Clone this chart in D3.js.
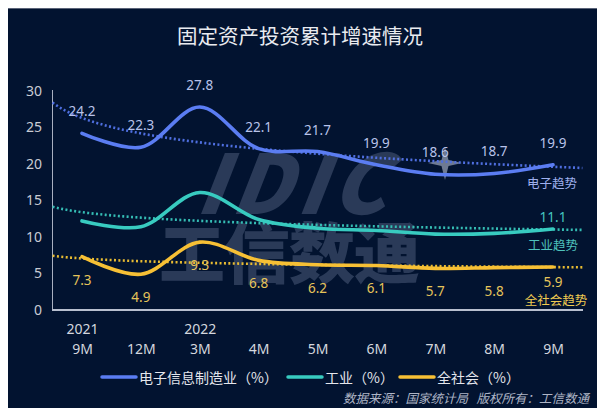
<!DOCTYPE html>
<html>
<head>
<meta charset="utf-8">
<script src="https://cdn.jsdelivr.net/npm/d3@7"></script>
<style>
  html, body { margin: 0; padding: 0; background: #ffffff; }
  svg { display: block; }
</style>
</head>
<body>
<svg id="chart" width="601" height="408" font-family="'Noto Sans CJK SC', 'Noto Sans', sans-serif"></svg>
<script>
// Periods (year row + month row of the category axis)
const categories = ["2021-9M", "2021-12M", "2022-3M", "2022-4M", "2022-5M", "2022-6M", "2022-7M", "2022-8M", "2022-9M"];
const yearLabels = ["2021", "", "2022", "", "", "", "", "", ""];
const monthLabels = ["9M", "12M", "3M", "4M", "5M", "6M", "7M", "8M", "9M"];

// Cumulative growth of fixed-asset investment (%)
const electronics = [24.2, 22.3, 27.8, 22.1, 21.7, 19.9, 18.6, 18.7, 19.9];
const industry    = [12.2, 11.4, 16.1, 12.4, 11.2, 10.9, 10.4, 10.5, 11.1];
const society     = [7.3, 4.9, 9.3, 6.8, 6.2, 6.1, 5.7, 5.8, 5.9];

// Logarithmic trend lines: value = a + b * ln(period index), period index 1..9
const trendA = [26.3, 13.4, 7.06];
const trendB = [-3.04, -1.08, -0.54];

const seriesNames  = ["电子信息制造业（%）", "工业（%）", "全社会（%）"];
const trendNames   = ["电子趋势", "工业趋势", "全社会趋势"];
const yTicks = [0, 5, 10, 15, 20, 25, 30];

const colors     = ["#5b7df2", "#38cbc0", "#f7c035"];
const dotColors  = ["#4f6fe0", "#35bdb4", "#e9bc32"];
const labelCols  = ["#b9c3ea", "#45c6c0", "#e6c45a"];
const trendCols  = ["#9fb0ee", "#4fc2bd", "#f0cb52"];

const numFont = "'Noto Sans', sans-serif";
const svg = d3.select("#chart");

// Dark panel
svg.append("rect").attr("x", 8).attr("y", 8).attr("width", 589).attr("height", 400).attr("fill", "#021330");
svg.append("line").attr("x1", 8).attr("x2", 597).attr("y1", 8.5).attr("y2", 8.5)
  .attr("stroke", "#5a6378").attr("stroke-width", 1);

// Title
svg.append("text").attr("x", 300).attr("y", 44).attr("text-anchor", "middle")
  .attr("font-size", 20.5).attr("fill", "#e9ebf0").text("固定资产投资累计增速情况");

const x = d3.scalePoint().domain(categories).range([82, 553]);
const step = x.step();
const y = d3.scaleLinear().domain([0, 30]).range([310, 91]);

// Watermark logo
const wm = svg.append("g").attr("fill", "#8795b4").attr("opacity", 0.3);
wm.append("text").attr("transform", "translate(292,214) skewX(-8)").attr("text-anchor", "middle")
  .attr("font-size", 82).attr("font-weight", 900).attr("font-style", "italic")
  .attr("letter-spacing", 6).text("IDIC");
wm.append("text").attr("x", 289).attr("y", 278).attr("text-anchor", "middle")
  .attr("font-size", 66).attr("font-weight", 900).attr("letter-spacing", -1).text("工信数通");
svg.append("path").attr("d", "M 445 147 L 448.5 160 L 462 163 L 448.5 166 L 445 180 L 441.5 166 L 428 163 L 441.5 160 Z")
  .attr("fill", "#c8d0e4").attr("opacity", 0.55);

// Y axis
const yAxis = d3.axisLeft(y).tickValues(yTicks).tickSize(0).tickPadding(10);
const gy = svg.append("g").attr("transform", "translate(52,0)").call(yAxis);
gy.select(".domain").remove();
gy.attr("font-family", numFont).attr("font-size", 14);
gy.selectAll("text").attr("fill", "#c9ccd4");
svg.append("line").attr("x1", 52.5).attr("x2", 52.5).attr("y1", 90).attr("y2", 310)
  .attr("stroke", "#a9b0c0").attr("stroke-width", 1);

// X axis
const xAxis = d3.axisBottom(x).tickSize(0).tickFormat(() => "");
const gx = svg.append("g").attr("transform", "translate(0,310)").call(xAxis);
gx.select(".domain").remove();
gx.attr("font-family", numFont).attr("font-size", 14);
gx.selectAll(".tick").each(function (d, i) {
  const t = d3.select(this);
  t.append("text").attr("y", 24).attr("text-anchor", "middle")
    .attr("fill", "#d4d7de").text(yearLabels[i]);
  t.append("text").attr("y", 44).attr("text-anchor", "middle")
    .attr("fill", "#d4d7de").text(monthLabels[i]);
});
svg.append("line").attr("x1", 52).attr("x2", 583).attr("y1", 310).attr("y2", 310)
  .attr("stroke", "#b8bfcf").attr("stroke-width", 2);

// Trend lines, extended half a period on both sides
const trendIdx = d3.range(0.5, 9.51, 0.1);
const idxToX = i => x(categories[0]) + (i - 1) * step;
trendA.forEach((a, s) => {
  const b = trendB[s];
  const line = d3.line().x(i => idxToX(i)).y(i => y(a + b * Math.log(i))).curve(d3.curveLinear);
  svg.append("path").attr("d", line(trendIdx)).attr("fill", "none")
    .attr("stroke", dotColors[s]).attr("stroke-width", 2.6)
    .attr("stroke-dasharray", "2 2.4");
});

// Series lines
const series = [electronics, industry, society];
const lineGen = d3.line().x((d, i) => x(categories[i])).y(d => y(d)).curve(d3.curveCatmullRom.alpha(0.5));
series.forEach((vals, s) => {
  svg.append("path").attr("d", lineGen(vals)).attr("fill", "none")
    .attr("stroke", colors[s]).attr("stroke-width", 3.6).attr("stroke-linecap", "round");
});

// Value labels
svg.append("g").attr("font-family", numFont).attr("font-size", 13.5)
  .selectAll("text").data(electronics).join("text")
  .attr("x", (d, i) => x(categories[i])).attr("y", d => y(d) - 17)
  .attr("text-anchor", "middle").attr("fill", labelCols[0]).text(d => d.toFixed(1));
svg.append("text").attr("x", x(categories[8])).attr("y", y(industry[8]) - 7)
  .attr("text-anchor", "middle").attr("font-size", 13.5).attr("fill", labelCols[1])
  .attr("font-family", numFont).text(industry[8].toFixed(1));
svg.append("g").attr("font-family", numFont).attr("font-size", 13.5)
  .selectAll("text").data(society).join("text")
  .attr("x", (d, i) => x(categories[i])).attr("y", (d, i) => y(d) + (i === 8 ? 20 : 28))
  .attr("text-anchor", "middle").attr("fill", labelCols[2]).text(d => d.toFixed(1));

// Trend labels
const trendLabelPos = [[552, 188], [553, 249.5], [556, 305]];
trendNames.forEach((n, s) => {
  svg.append("text").attr("x", trendLabelPos[s][0]).attr("y", trendLabelPos[s][1])
    .attr("text-anchor", "middle").attr("font-size", 12.5).attr("fill", trendCols[s]).text(n);
});

// Legend
const legendX = [102, 288, 400];
const legend = svg.append("g");
seriesNames.forEach((n, s) => {
  legend.append("line").attr("x1", legendX[s]).attr("x2", legendX[s] + 34)
    .attr("y1", 377).attr("y2", 377).attr("stroke", colors[s]).attr("stroke-width", 3.5)
    .attr("stroke-linecap", "round");
  legend.append("text").attr("x", legendX[s] + 37).attr("y", 383)
    .attr("font-size", 14).attr("fill", "#e4e6ec").text(n);
});

// Source note
svg.append("text").attr("x", 589).attr("y", 403).attr("text-anchor", "end")
  .attr("font-size", 12.5).attr("font-style", "italic").attr("fill", "#aeb5c6")
  .attr("xml:space", "preserve")
  .text("数据来源：国家统计局   版权所有：工信数通");
</script>
</body>
</html>
